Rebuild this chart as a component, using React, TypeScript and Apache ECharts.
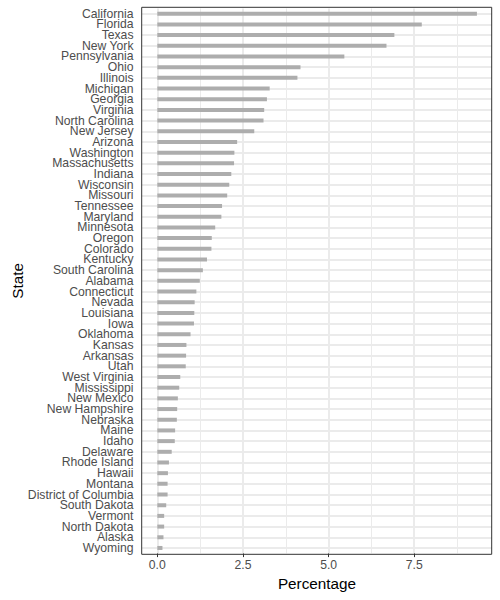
import React, { useEffect, useRef } from "react";
import * as echarts from "echarts";

const states = [
  "California", "Florida", "Texas", "New York", "Pennsylvania", "Ohio", "Illinois",
  "Michigan", "Georgia", "Virginia", "North Carolina", "New Jersey", "Arizona",
  "Washington", "Massachusetts", "Indiana", "Wisconsin", "Missouri", "Tennessee",
  "Maryland", "Minnesota", "Oregon", "Colorado", "Kentucky", "South Carolina",
  "Alabama", "Connecticut", "Nevada", "Louisiana", "Iowa", "Oklahoma", "Kansas",
  "Arkansas", "Utah", "West Virginia", "Mississippi", "New Mexico", "New Hampshire",
  "Nebraska", "Maine", "Idaho", "Delaware", "Rhode Island", "Hawaii", "Montana",
  "District of Columbia", "South Dakota", "Vermont", "North Dakota", "Alaska", "Wyoming",
];

const percentages = [
  9.33, 7.72, 6.92, 6.69, 5.46, 4.18, 4.09,
  3.28, 3.2, 3.12, 3.1, 2.83, 2.33,
  2.25, 2.24, 2.16, 2.1, 2.04, 1.89,
  1.87, 1.69, 1.59, 1.58, 1.45, 1.33,
  1.24, 1.14, 1.09, 1.08, 1.07, 0.97, 0.85,
  0.84, 0.83, 0.67, 0.64, 0.6, 0.58,
  0.57, 0.52, 0.51, 0.42, 0.34, 0.31, 0.3,
  0.3, 0.26, 0.2, 0.2, 0.18, 0.15,
];

const xTicks = [0, 2.5, 5, 7.5];
const xMinorTicks = [1.25, 3.75, 6.25, 8.75];

const FONT = "Liberation Sans, Arial, Helvetica, sans-serif";

export default function App() {
  const ref = useRef<HTMLDivElement>(null);

  useEffect(() => {
    if (!ref.current) return;
    const chart = echarts.init(ref.current, undefined, { renderer: "svg" });

    const gridLines: any[] = [];
    xMinorTicks.forEach((v) =>
      gridLines.push({ xAxis: v, lineStyle: { color: "#EBEBEB", width: 1, type: "solid" } })
    );
    xTicks.forEach((v) =>
      gridLines.push({ xAxis: v, lineStyle: { color: "#EBEBEB", width: 2, type: "solid" } })
    );
    states.forEach((s) =>
      gridLines.push({ yAxis: s, lineStyle: { color: "#EBEBEB", width: 2, type: "solid" } })
    );

    chart.setOption({
      animation: false,
      textStyle: { fontFamily: FONT },
      grid: {
        left: 142,
        top: 8.4,
        width: 350,
        height: 544.9,
        show: false,
        containLabel: false,
        outerBoundsMode: "none",
      },
      graphic: [
        {
          type: "rect",
          z: 100,
          silent: true,
          shape: { x: 141.7, y: 7.3, width: 350, height: 547 },
          style: { fill: "none", stroke: "#333333", lineWidth: 1 },
        },
      ],
      xAxis: {
        type: "value",
        min: -0.447,
        max: 9.77,
        name: "Percentage",
        nameLocation: "middle",
        nameGap: 23,
        nameMoveOverlap: false,
        nameTextStyle: { color: "#000000", fontSize: 15.3, fontFamily: FONT },
        axisLine: { show: false },
        axisTick: {
          show: true,
          customValues: xTicks,
          length: 3.8,
          lineStyle: { color: "#333333", width: 1 },
        },
        axisLabel: {
          customValues: xTicks,
          formatter: (v: number) => v.toFixed(1),
          color: "#4D4D4D",
          fontSize: 12.2,
          margin: 6,
          fontFamily: FONT,
        },
        splitLine: { show: false },
        minorSplitLine: { show: false },
      },
      yAxis: {
        type: "category",
        data: states,
        inverse: true,
        name: "State",
        nameLocation: "middle",
        nameRotate: 90,
        nameGap: 117,
        nameMoveOverlap: false,
        nameTextStyle: { color: "#000000", fontSize: 15.3, fontFamily: FONT },
        axisLine: { show: false },
        axisTick: {
          show: true,
          alignWithLabel: true,
          interval: 0,
          length: 3.8,
          lineStyle: { color: "#333333", width: 1 },
        },
        axisLabel: {
          interval: 0,
          align: "right",
          verticalAlign: "middle",
          lineHeight: 10,
          color: "#4D4D4D",
          fontSize: 12.2,
          margin: 8.5,
          fontFamily: FONT,
        },
        splitLine: { show: false },
      },
      series: [
        {
          type: "bar",
          data: percentages,
          barWidth: 4,
          itemStyle: { color: "#ADADAD" },
          z: 3,
          markLine: {
            silent: true,
            symbol: "none",
            z: 1,
            label: { show: false },
            data: gridLines,
          },
        },
      ],
    });

    return () => chart.dispose();
  }, []);

  return (
    <div
      ref={ref}
      style={{ position: "absolute", left: 0, top: 0, width: 500, height: 600 }}
    />
  );
}
